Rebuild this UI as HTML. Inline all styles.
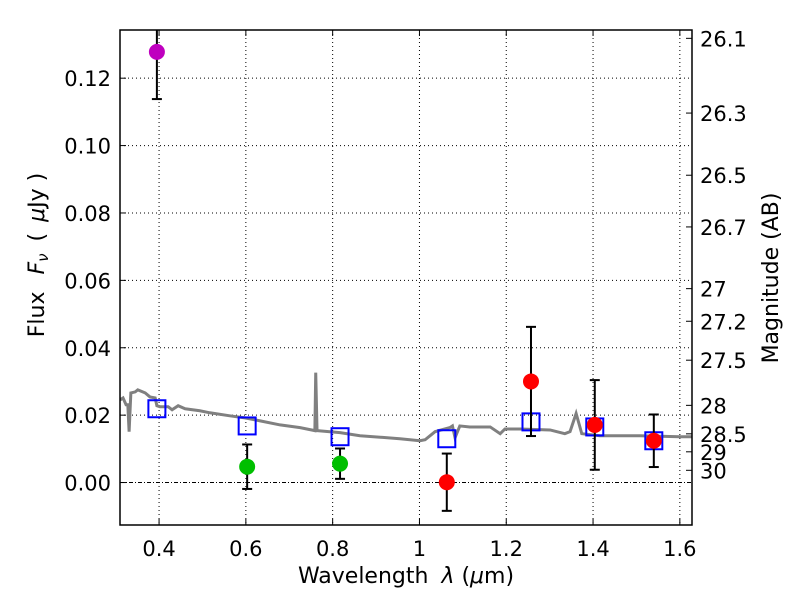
<!DOCTYPE html>
<html><head><meta charset="utf-8"><style>
body{margin:0;background:#fff;}
svg text{font-family:"DejaVu Sans","Liberation Sans",sans-serif;fill:#000;}
</style></head><body>
<svg id="chart" width="800" height="600" xmlns="http://www.w3.org/2000/svg"></svg>
<script>
const xTicks=[0.4,0.6,0.8,1.0,1.2,1.4,1.6];
const xTickLabels=["0.4","0.6","0.8","1","1.2","1.4","1.6"];
const yTicks=[0,0.02,0.04,0.06,0.08,0.10,0.12];
const yTickLabels=["0.00","0.02","0.04","0.06","0.08","0.10","0.12"];
const magTicks=[26.1,26.3,26.5,26.7,27,27.2,27.5,28,28.5,29,30];
const specWave=[0.310,0.317,0.324,0.328,0.331,0.335,0.345,0.351,0.368,0.379,0.391,0.395,0.402,0.421,0.430,0.444,0.460,0.494,0.517,0.563,0.598,0.633,0.679,0.725,0.759,0.761,0.764,0.817,0.863,0.955,1.001,1.013,1.036,1.070,1.076,1.082,1.093,1.116,1.163,1.186,1.197,1.232,1.301,1.335,1.347,1.361,1.374,1.416,1.508,1.600,1.628];
const specFlux=[0.0245,0.0251,0.0231,0.0231,0.0151,0.0266,0.0269,0.0275,0.0266,0.0254,0.0251,0.0228,0.0225,0.0225,0.0216,0.0228,0.0219,0.0213,0.0207,0.0198,0.0192,0.0183,0.0171,0.0163,0.0154,0.0326,0.0154,0.0148,0.0139,0.0130,0.0124,0.0127,0.0151,0.0163,0.0168,0.0133,0.0168,0.0165,0.0165,0.0145,0.0159,0.0159,0.0156,0.0145,0.0151,0.0205,0.0145,0.0139,0.0139,0.0136,0.0136];
const obsWave=[0.395,0.603,0.817,1.063,1.257,1.404,1.540];
const obsFlux=[0.1278,0.0047,0.0056,0.0001,0.0300,0.0171,0.0124];
const obsErr=[0.0140,0.0066,0.0045,0.0085,0.0162,0.0133,0.0078];
const obsColor=["#bf00bf","#00bf00","#00bf00","#ff0000","#ff0000","#ff0000","#ff0000"];
const modelFlux=[0.0219,0.0168,0.0136,0.0130,0.0180,0.0165,0.0124];

const L=120,R=692,T=30,B=525;
const x0=0.31,x1=1.628,y0=-0.0126,y1=0.1343;
const sx=v=>L+(v-x0)/(x1-x0)*(R-L);
const sy=v=>B-(v-y0)/(y1-y0)*(B-T);
const magToFlux=m=>Math.pow(10,(23.9-m)/2.5);
const svg=document.getElementById('chart');
const NS='http://www.w3.org/2000/svg';
function mk(tag,attrs,parent){const e=document.createElementNS(NS,tag);for(const k in attrs)e.setAttribute(k,attrs[k]);(parent||svg).appendChild(e);return e;}

xTicks.forEach((t,i)=>{
  const X=sx(t);
  const g=mk('line',{x1:X,x2:X,y1:T,y2:B,stroke:'#000','stroke-width':1,'stroke-dasharray':'1,3'});
  
  
  mk('line',{x1:X,x2:X,y1:B,y2:B-6,stroke:'#000'});
  mk('line',{x1:X,x2:X,y1:T,y2:T+6,stroke:'#000'});
  const tx=mk('text',{x:X,y:B+31,'font-size':21,'text-anchor':'middle'});
  tx.textContent=xTickLabels[i];
  
  
});
yTicks.forEach((t,i)=>{
  const Y=sy(t);
  const g=mk('line',{x1:L,x2:R,y1:Y,y2:Y,stroke:'#000','stroke-width':1,'stroke-dasharray':t===0?'4,2,1,2':'1,3'});
  
  
  mk('line',{x1:L,x2:L+6,y1:Y,y2:Y,stroke:'#000'});
  const tx=mk('text',{x:L-9,y:Y+8,'font-size':21,'text-anchor':'end'});
  tx.textContent=yTickLabels[i];
  
  
});
magTicks.forEach(m=>{
  const Y=sy(magToFlux(m));
  mk('line',{x1:R,x2:R-6,y1:Y,y2:Y,stroke:'#000'});
  const tx=mk('text',{x:R+8,y:Y+8,'font-size':21});
  tx.textContent=String(m);
  
  
});

const clip=mk('clipPath',{id:'pc'});mk('rect',{x:L,y:T,width:R-L,height:B-T},clip);
const sp=mk('polyline',{points:specWave.map((w,i)=>sx(w)+','+sy(specFlux[i])).join(' '),fill:'none',stroke:'#808080','stroke-width':3,'clip-path':'url(#pc)'});



modelFlux.forEach((f,i)=>{
  const s=mk('rect',{x:sx(obsWave[i])-8.5,y:sy(f)-8.5,width:17,height:17,fill:'none',stroke:'#0000ff','stroke-width':2});
  
  
});
obsWave.forEach((w,i)=>{
  const X=sx(w),Yt=Math.max(sy(obsFlux[i]+obsErr[i]),T),Yb=sy(obsFlux[i]-obsErr[i]);
  const g=mk('g',{'clip-path':'url(#pc)'});
  mk('line',{x1:X,x2:X,y1:Yt,y2:Yb,stroke:'#000','stroke-width':2},g);
  if(sy(obsFlux[i]+obsErr[i])>T) mk('line',{x1:X-5,x2:X+5,y1:Yt,y2:Yt,stroke:'#000','stroke-width':2},g);
  mk('line',{x1:X-5,x2:X+5,y1:Yb,y2:Yb,stroke:'#000','stroke-width':2},g);
  const c=mk('circle',{cx:X,cy:sy(obsFlux[i]),r:8,fill:obsColor[i]});
  
  
});

const fr=mk('rect',{x:L,y:T,width:R-L,height:B-T,fill:'none',stroke:'#000','stroke-width':1.5});



const xl=mk('text',{x:406,y:583,'font-size':22,'text-anchor':'middle','xml:space':'preserve'});
xl.innerHTML='Wavelength  <tspan font-style="italic" dx="6">λ</tspan> (<tspan font-style="italic">μ</tspan>m)';


const yl=mk('text',{x:0,y:0,'font-size':22,'text-anchor':'middle',transform:'translate(44,255) rotate(-90)'});
yl.innerHTML='Flux <tspan font-style="italic" dx="10">F</tspan><tspan font-style="italic" font-size="15" dy="4">ν</tspan><tspan dy="-4" dx="12">( </tspan><tspan font-style="italic" dx="4">μ</tspan>Jy )';


const rl=mk('text',{x:0,y:0,'font-size':22,'text-anchor':'middle',transform:'translate(778,278) rotate(-90)'});
rl.textContent='Magnitude (AB)';


</script>
</body></html>
